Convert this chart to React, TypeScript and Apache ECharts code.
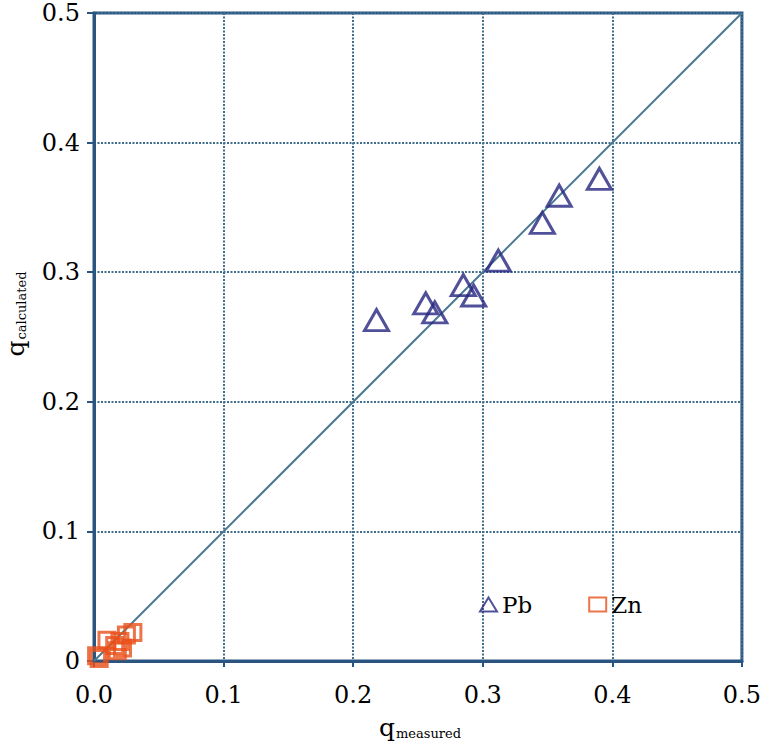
import React, { useEffect, useRef } from "react";
import * as echarts from "echarts";

const pbMeasured = [0.218, 0.256, 0.263, 0.285, 0.293, 0.312, 0.346, 0.359, 0.390];
const pbCalculated = [0.263, 0.276, 0.269, 0.290, 0.282, 0.309, 0.338, 0.359, 0.372];
const znMeasured = [0.002, 0.004, 0.010, 0.016, 0.020, 0.022, 0.025, 0.030, 0.018];
const znCalculated = [0.004, 0.002, 0.016, 0.012, 0.015, 0.010, 0.020, 0.022, 0.008];
const lineX = [0, 0.5];
const lineY = [0, 0.5];

const FONT = "DejaVu Serif";
const AXIS_COLOR = "#2a5580";
const GRID_COLOR = "#3f6d8c";

export default function App() {
  const ref = useRef<HTMLDivElement>(null);
  useEffect(() => {
    if (!ref.current) return;
    const chart = echarts.init(ref.current, null, { renderer: "svg" });
    const subRich = {
      q: { fontSize: 25, fontFamily: FONT, color: "#000", verticalAlign: "bottom" },
      s: { fontSize: 13, fontFamily: FONT, color: "#000", verticalAlign: "bottom", padding: [0, 0, 0, 1] },
    };
    chart.setOption({
      animation: false,
      backgroundColor: "#fff",
      textStyle: { fontFamily: FONT },
      grid: {
        left: 94,
        right: 18,
        top: 13,
        bottom: 85,
        show: true,
        borderColor: AXIS_COLOR,
        borderWidth: 3,
        containLabel: false,
      },
      legend: {
        left: 474,
        top: 588,
        itemGap: 56,
        itemWidth: 17,
        itemHeight: 14,
        data: ["Pb", "Zn"],
        textStyle: { fontFamily: FONT, fontSize: 23, color: "#000" },
      },
      xAxis: {
        type: "value",
        min: 0,
        max: 0.5,
        interval: 0.1,
        axisLine: { show: true, onZero: false, lineStyle: { color: AXIS_COLOR, width: 3 } },
        axisTick: { show: true, length: 6, lineStyle: { color: AXIS_COLOR, width: 2 } },
        axisLabel: {
          margin: 22,
          fontFamily: FONT,
          fontSize: 24,
          color: "#000",
          formatter: (v: number) => v.toFixed(1),
        },
        splitLine: { show: true, lineStyle: { color: GRID_COLOR, width: 2, type: [2, 1.5] } },
      },
      yAxis: {
        type: "value",
        min: 0,
        max: 0.5,
        interval: 0.1,
        axisLine: { show: true, onZero: false, lineStyle: { color: AXIS_COLOR, width: 3 } },
        axisTick: { show: true, length: 7, lineStyle: { color: AXIS_COLOR, width: 2 } },
        axisLabel: {
          margin: 14,
          fontFamily: FONT,
          fontSize: 24,
          color: "#000",
          formatter: (v: number) => (v === 0 ? "0" : v.toFixed(1)),
        },
        splitLine: { show: true, lineStyle: { color: GRID_COLOR, width: 2, type: [2, 1.5] } },
      },
      graphic: [
        {
          type: "text",
          x: 420,
          y: 727,
          style: { text: "{q|q}{s|measured}", rich: subRich, align: "center", verticalAlign: "middle" },
        },
        {
          type: "text",
          x: 15,
          y: 314,
          rotation: Math.PI / 2,
          style: { text: "{q|q}{s|calculated}", rich: subRich, align: "center", verticalAlign: "middle" },
        },
      ],
      series: [
        {
          type: "line",
          data: lineX.map((x, i) => [x, lineY[i]]),
          showSymbol: false,
          symbol: "none",
          lineStyle: { color: "#4a7890", width: 2 },
          silent: true,
          z: 1,
        },
        {
          name: "Pb",
          type: "scatter",
          symbol: "triangle",
          symbolSize: [24, 21],
          data: pbMeasured.map((x, i) => [x, pbCalculated[i]]),
          itemStyle: { color: "rgba(255,255,255,0)", borderColor: "#25257f", borderWidth: 3 },
          z: 3,
        },
        {
          name: "Zn",
          type: "scatter",
          symbol: "rect",
          symbolSize: 16,
          data: znMeasured.map((x, i) => [x, znCalculated[i]]),
          itemStyle: { color: "rgba(255,255,255,0)", borderColor: "#e8501a", borderWidth: 3 },
          z: 3,
        },
      ],
    });
    return () => chart.dispose();
  }, []);
  return (
    <div
      ref={ref}
      style={{ position: "fixed", left: 0, top: 0, width: 764, height: 746 }}
    />
  );
}
